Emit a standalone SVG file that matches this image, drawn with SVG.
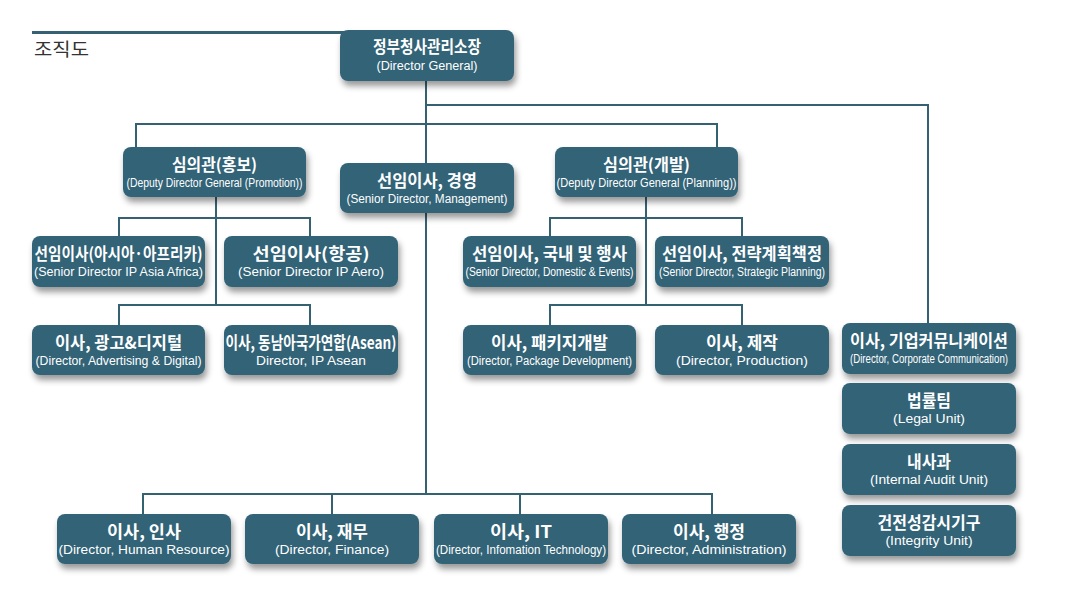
<svg xmlns="http://www.w3.org/2000/svg" width="1079" height="611" viewBox="0 0 1079 611">
<defs>
<filter id="sh" x="-10%" y="-20%" width="125%" height="160%">
<feDropShadow dx="2" dy="5" stdDeviation="3" flood-color="#000" flood-opacity="0.4"/>
</filter>
<style>
.box{fill:#326477;filter:url(#sh)}
.kr{font-family:"Noto Sans CJK KR","Noto Sans CJK SC",sans-serif;font-weight:bold;font-size:16.5px;fill:#fff}
.en{font-family:"Liberation Sans",Arial,sans-serif;font-size:12.5px;fill:#fff}
.ln{fill:none;stroke:#356273;stroke-width:2}
.title{font-family:"Noto Sans CJK KR","Noto Sans CJK SC",sans-serif;font-size:18.5px;fill:#333}
</style>
</defs>
<rect x="32" y="31" width="360" height="3" fill="#356273"/>
<text class="title" x="34" y="56" textLength="55" lengthAdjust="spacingAndGlyphs">조직도</text>
<g id="connectors">
<path class="ln" d="M426 81 V494 M426 105 H928 V323 M136 147 V124 H717 V147 M216 197 V305 M119 236 V218 H310 V236 M119 325 V305 H310 V325 M646 197 V305 M550 236 V218 H742 V236 M550 325 V305 H742 V325 M143 514 V494 H712 V514 M332 494 V514 M520 494 V514"/>
</g>
<g id="dg"><rect class="box" x="340" y="30" width="174" height="51" rx="8"/>
<text class="kr" x="373" y="53" textLength="108" lengthAdjust="spacingAndGlyphs">정부청사관리소장</text>
<text class="en" x="376.5" y="70" textLength="101" lengthAdjust="spacingAndGlyphs">(Director General)</text></g>
<g id="ddg-promo"><rect class="box" x="123" y="147" width="183" height="50" rx="8"/>
<text class="kr" x="172" y="171" textLength="85" lengthAdjust="spacingAndGlyphs">심의관(홍보)</text>
<text class="en" x="126.5" y="187" textLength="176" lengthAdjust="spacingAndGlyphs">(Deputy Director General (Promotion))</text></g>
<g id="sd-mgmt"><rect class="box" x="340" y="163" width="174" height="50" rx="8"/>
<text class="kr" x="377" y="187" textLength="100" lengthAdjust="spacingAndGlyphs">선임이사, 경영</text>
<text class="en" x="346.5" y="203" textLength="161" lengthAdjust="spacingAndGlyphs">(Senior Director, Management)</text></g>
<g id="ddg-plan"><rect class="box" x="555" y="147" width="183" height="50" rx="8"/>
<text class="kr" x="603" y="171" textLength="87" lengthAdjust="spacingAndGlyphs">심의관(개발)</text>
<text class="en" x="556.5" y="187" textLength="180" lengthAdjust="spacingAndGlyphs">(Deputy Director General (Planning))</text></g>
<g id="sd-asia"><rect class="box" x="32" y="236" width="173" height="51" rx="8"/>
<text class="kr" x="34.5" y="260" textLength="168" lengthAdjust="spacingAndGlyphs">선임이사(아시아·아프리카)</text>
<text class="en" x="34" y="276" textLength="169" lengthAdjust="spacingAndGlyphs">(Senior Director IP Asia Africa)</text></g>
<g id="sd-aero"><rect class="box" x="224" y="236" width="174" height="51" rx="8"/>
<text class="kr" x="252.5" y="260" textLength="117" lengthAdjust="spacingAndGlyphs">선임이사(항공)</text>
<text class="en" x="238" y="276" textLength="146" lengthAdjust="spacingAndGlyphs">(Senior Director IP Aero)</text></g>
<g id="d-adv"><rect class="box" x="32" y="325" width="173" height="50" rx="8"/>
<text class="kr" x="55" y="349" textLength="127" lengthAdjust="spacingAndGlyphs">이사, 광고&amp;디지털</text>
<text class="en" x="35.5" y="365" textLength="166" lengthAdjust="spacingAndGlyphs">(Director, Advertising &amp; Digital)</text></g>
<g id="d-asean"><rect class="box" x="224" y="325" width="174" height="50" rx="8"/>
<text class="kr" x="225.5" y="349" textLength="171" lengthAdjust="spacingAndGlyphs">이사, 동남아국가연합(Asean)</text>
<text class="en" x="256" y="365" textLength="110" lengthAdjust="spacingAndGlyphs">Director, IP Asean</text></g>
<g id="sd-domestic"><rect class="box" x="463" y="236" width="173" height="51" rx="8"/>
<text class="kr" x="472" y="260" textLength="155" lengthAdjust="spacingAndGlyphs">선임이사, 국내 및 행사</text>
<text class="en" x="465.5" y="276" textLength="168" lengthAdjust="spacingAndGlyphs">(Senior Director, Domestic &amp; Events)</text></g>
<g id="sd-strategic"><rect class="box" x="655" y="236" width="174" height="51" rx="8"/>
<text class="kr" x="662" y="260" textLength="160" lengthAdjust="spacingAndGlyphs">선임이사, 전략계획책정</text>
<text class="en" x="659" y="276" textLength="166" lengthAdjust="spacingAndGlyphs">(Senior Director, Strategic Planning)</text></g>
<g id="d-package"><rect class="box" x="463" y="325" width="173" height="50" rx="8"/>
<text class="kr" x="491" y="349" textLength="117" lengthAdjust="spacingAndGlyphs">이사, 패키지개발</text>
<text class="en" x="467" y="365" textLength="165" lengthAdjust="spacingAndGlyphs">(Director, Package Development)</text></g>
<g id="d-production"><rect class="box" x="655" y="325" width="174" height="50" rx="8"/>
<text class="kr" x="706" y="349" textLength="72" lengthAdjust="spacingAndGlyphs">이사, 제작</text>
<text class="en" x="676" y="365" textLength="132" lengthAdjust="spacingAndGlyphs">(Director, Production)</text></g>
<g id="d-corpcomm"><rect class="box" x="842" y="323" width="174" height="51" rx="8"/>
<text class="kr" x="850" y="347" textLength="158" lengthAdjust="spacingAndGlyphs">이사, 기업커뮤니케이션</text>
<text class="en" x="850" y="363" textLength="158" lengthAdjust="spacingAndGlyphs">(Director, Corporate Communication)</text></g>
<g id="legal"><rect class="box" x="842" y="383" width="174" height="51" rx="8"/>
<text class="kr" x="907" y="407" textLength="44" lengthAdjust="spacingAndGlyphs">법률팀</text>
<text class="en" x="893" y="423" textLength="72" lengthAdjust="spacingAndGlyphs">(Legal Unit)</text></g>
<g id="audit"><rect class="box" x="842" y="444" width="174" height="51" rx="8"/>
<text class="kr" x="907" y="468" textLength="44" lengthAdjust="spacingAndGlyphs">내사과</text>
<text class="en" x="870" y="484" textLength="118" lengthAdjust="spacingAndGlyphs">(Internal Audit Unit)</text></g>
<g id="integrity"><rect class="box" x="842" y="505" width="174" height="51" rx="8"/>
<text class="kr" x="877.5" y="529" textLength="103" lengthAdjust="spacingAndGlyphs">건전성감시기구</text>
<text class="en" x="885.5" y="545" textLength="87" lengthAdjust="spacingAndGlyphs">(Integrity Unit)</text></g>
<g id="d-hr"><rect class="box" x="57" y="514" width="174" height="50" rx="8"/>
<text class="kr" x="107" y="538" textLength="74" lengthAdjust="spacingAndGlyphs">이사, 인사</text>
<text class="en" x="58.5" y="554" textLength="171" lengthAdjust="spacingAndGlyphs">(Director, Human Resource)</text></g>
<g id="d-finance"><rect class="box" x="245" y="514" width="174" height="50" rx="8"/>
<text class="kr" x="296" y="538" textLength="72" lengthAdjust="spacingAndGlyphs">이사, 재무</text>
<text class="en" x="275" y="554" textLength="114" lengthAdjust="spacingAndGlyphs">(Director, Finance)</text></g>
<g id="d-it"><rect class="box" x="434" y="514" width="174" height="50" rx="8"/>
<text class="kr" x="490" y="538" textLength="62" lengthAdjust="spacingAndGlyphs">이사, IT</text>
<text class="en" x="436" y="554" textLength="170" lengthAdjust="spacingAndGlyphs">(Director, Infomation Technology)</text></g>
<g id="d-admin"><rect class="box" x="622" y="514" width="174" height="50" rx="8"/>
<text class="kr" x="673" y="538" textLength="72" lengthAdjust="spacingAndGlyphs">이사, 행정</text>
<text class="en" x="631.5" y="554" textLength="155" lengthAdjust="spacingAndGlyphs">(Director, Administration)</text></g>
</svg>
